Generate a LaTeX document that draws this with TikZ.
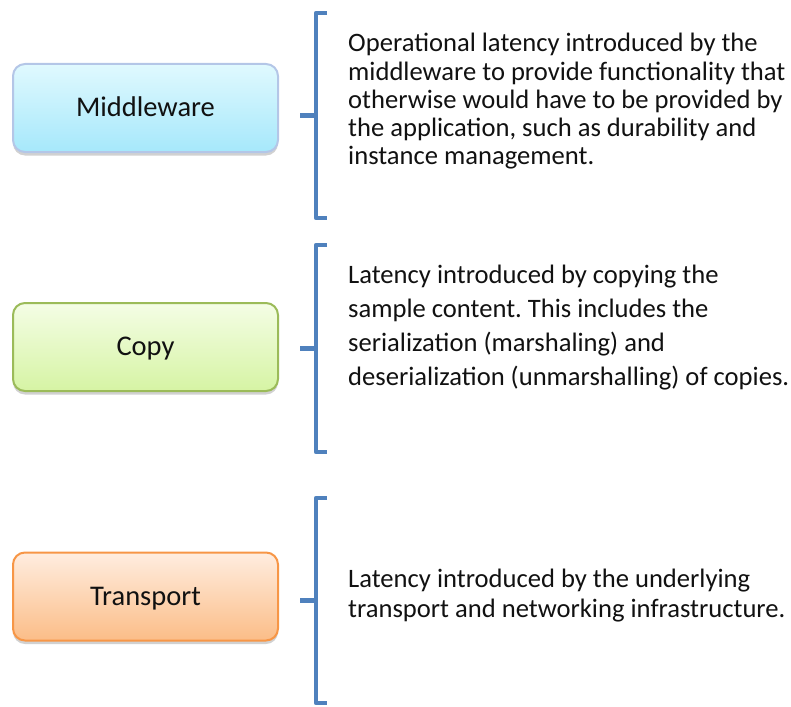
\documentclass[tikz,border=0pt]{standalone}
\usepackage{fontspec}
\setmainfont{Carlito}
\frenchspacing
\usetikzlibrary{shadows}
\definecolor{mwtop}{HTML}{E0F9FE}
\definecolor{mwbot}{HTML}{A6E8FB}
\definecolor{mwline}{HTML}{B4C6E7}
\definecolor{cptop}{HTML}{F4FDE5}
\definecolor{cpbot}{HTML}{D6F4A4}
\definecolor{cpline}{HTML}{9BBB59}
\definecolor{trtop}{HTML}{FFEDDF}
\definecolor{trbot}{HTML}{FBBD88}
\definecolor{trline}{HTML}{F79646}
\definecolor{brk}{HTML}{4F81BD}
\definecolor{txt}{HTML}{111111}
\tikzset{
  box/.style={rounded corners=12pt, minimum width=265pt, minimum height=88pt,
    line width=2pt, inner sep=0pt, text=txt,
    font=\fontsize{28.5}{30}\selectfont,
    drop shadow={shadow xshift=0pt, shadow yshift=-3.5pt, opacity=0.3, fill=black!60}},
  lbl/.style={anchor=base, inner sep=0pt, text=txt, font=\fontsize{28.5}{30}\selectfont},
  desc/.style={anchor=base west, inner sep=0pt, text=txt, font=\fontsize{26.6}{28}\selectfont},
  brace/.style={draw=brk, line width=4.5pt, line join=round}
}
\begin{document}
\begin{tikzpicture}[x=1pt,y=-1pt]
\useasboundingbox (0,0) rectangle (791,706);
% boxes
\node[box, draw=mwline, top color=mwtop, bottom color=mwbot] (mw) at (145.5,108) {};
\node[lbl] (mwl) at (145.5,117) {Middleware};
\node[box, draw=cpline, top color=cptop, bottom color=cpbot] (cp) at (145.5,347) {};
\node[lbl] (cpl) at (145.5,355) {Copy};
\node[box, draw=trline, top color=trtop, bottom color=trbot] (tr) at (145.5,596.5) {};
\node[lbl] (trl) at (145.5,605) {Transport};
% brackets
\draw[brace] (327,13) -- (316,13) -- (316,218) -- (327,218);
\draw[brace] (316,115.5) -- (300,115.5);
\draw[brace] (327,245) -- (316,245) -- (316,452) -- (327,452);
\draw[brace] (316,348.5) -- (300,348.5);
\draw[brace] (327,498) -- (316,498) -- (316,703) -- (327,703);
\draw[brace] (316,600.5) -- (300,600.5);
% descriptions
\node[desc] (d1a) at (348,52) {Operational latency introduced by the};
\node[desc] (d1b) at (348,80.2) {middleware to provide functionality that};
\node[desc] (d1c) at (348,108.4) {otherwise would have to be provided by};
\node[desc] (d1d) at (348,136.6) {the application, such as durability and};
\node[desc] (d1e) at (348,164.8) {instance management.};
\node[desc] (d2a) at (348,283) {Latency introduced by copying the};
\node[desc] (d2b) at (348,317) {sample content. This includes the};
\node[desc] (d2c) at (348,351) {serialization (marshaling) and};
\node[desc] (d2d) at (348,385) {deserialization (unmarshalling) of copies.};
\node[desc] (d3a) at (348,587) {Latency introduced by the underlying};
\node[desc] (d3b) at (348,617) {transport and networking infrastructure.};
\end{tikzpicture}
\end{document}
